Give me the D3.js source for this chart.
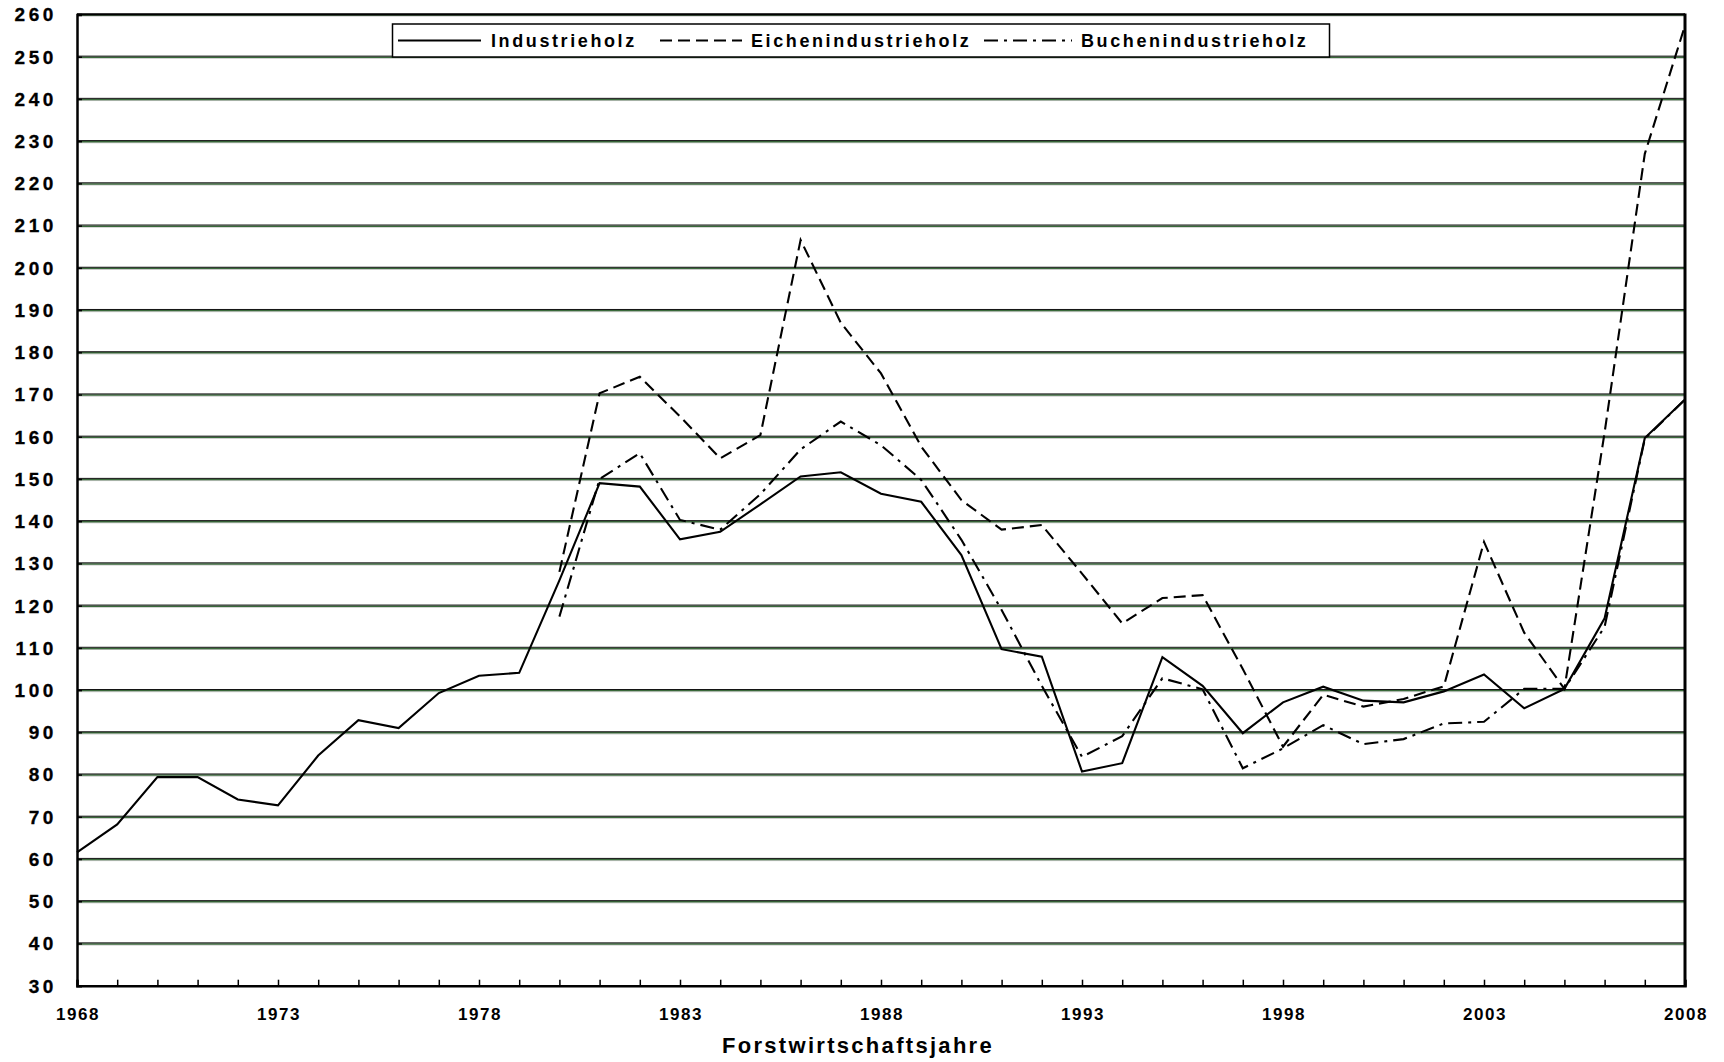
<!DOCTYPE html>
<html>
<head>
<meta charset="utf-8">
<script src="https://cdn.jsdelivr.net/npm/d3@7"></script>
<style>
  html, body { margin: 0; padding: 0; background: #fff; }
  svg { display: block; }
  text { font-family: "Liberation Sans", Arial, sans-serif; font-weight: bold; fill: #000; }
</style>
</head>
<body>
<script>
// ---- data ----
const years = d3.range(1968, 2009);
const industrieholz = [61.6, 68.2, 79.4, 79.4, 74.1, 72.7, 84.5, 92.9, 91, 99.3, 103.4, 104.1,
  126, 149, 148.2, 135.7, 137.5, 144, 150.6, 151.6, 146.5, 144.6,
  132, 109.7, 107.9, 80.7, 82.7, 107.8, 101, 89.8, 97.1, 100.8,
  97.5, 97.1, 99.7, 103.7, 95.7, 100.3, 117, 159.7, 168.8];
const eichenYears = d3.range(1980, 2009);
const eichenindustrieholz = [128, 170.3, 174.2, 164.8, 154.9, 160.4, 206.6, 187, 175, 157.7,
  145, 138, 139.1, 127.6, 115.8, 121.8, 122.5, 105, 86.6, 98.9,
  96.1, 97.9, 100.9, 135.1, 113.6, 100.3, 161, 227, 257.4];
const buchenYears = d3.range(1980, 2009);
const buchenindustrieholz = [117.4, 150, 156.1, 140.3, 138, 146.4, 157, 163.6, 158, 149.8,
  135.6, 119, 101, 84.2, 89.1, 102.8, 100.2, 81.5, 86.2, 91.7,
  87.2, 88.4, 92.1, 92.5, 100.3, 100.3, 115, 159.5, 168.8];
const seriesNames = ["Industrieholz", "Eichenindustrieholz", "Buchenindustrieholz"];
const yTicks = d3.range(30, 261, 10);
const xLabelYears = [1968, 1973, 1978, 1983, 1988, 1993, 1998, 2003, 2008];
const axisTitle = "Forstwirtschaftsjahre";

// ---- layout ----
const W = 1724, H = 1062;
const pLeft = 77, pRight = 1685, pTop = 14.5, pBottom = 985.7;

const svg = d3.select("body").append("svg").attr("width", W).attr("height", H);

const x = d3.scaleLinear().domain([1968, 2008]).range([pLeft, pRight]);
const y = d3.scaleLinear().domain([30, 260]).range([pBottom, pTop]);

// gridlines
const grid = svg.append("g");
yTicks.filter(v => v > 30).forEach(v => {
  const yy = y(v);
  grid.append("line").attr("x1", pLeft).attr("x2", pRight).attr("y1", yy + 1.6).attr("y2", yy + 1.6)
    .attr("stroke", "#c8c8c8").attr("stroke-width", 1);
  grid.append("line").attr("x1", pLeft).attr("x2", pRight).attr("y1", yy + 0.5).attr("y2", yy + 0.5)
    .attr("stroke", "#3a6a3b").attr("stroke-width", 1.5);
  grid.append("line").attr("x1", pLeft).attr("x2", pRight).attr("y1", yy - 0.6).attr("y2", yy - 0.6)
    .attr("stroke", "#111").attr("stroke-width", 1);
});

// y axis (ticks inward)
const yAxis = d3.axisLeft(y).tickValues(yTicks).tickSize(-5).tickFormat("");
const gy = svg.append("g").attr("transform", `translate(${pLeft},0)`).call(yAxis);
gy.select(".domain").attr("stroke", "#000").attr("stroke-width", 2.5);
gy.selectAll(".tick line").attr("stroke", "#000").attr("stroke-width", 1.5);

svg.append("g").selectAll("text").data(yTicks).join("text")
  .attr("x", 57).attr("y", d => y(d)).attr("dy", "0.36em")
  .attr("text-anchor", "end").attr("font-size", 19).attr("letter-spacing", 3.6)
  .attr("stroke", "#000").attr("stroke-width", 0.3)
  .text(d => d);

// x axis (ticks inward, every year)
const xAxis = d3.axisBottom(x).tickValues(years).tickSize(-6).tickFormat("");
const gx = svg.append("g").attr("transform", `translate(0,${pBottom})`).call(xAxis);
gx.select(".domain").attr("stroke", "#000").attr("stroke-width", 2.5);
gx.selectAll(".tick line").attr("stroke", "#000").attr("stroke-width", 1.5);

svg.append("g").selectAll("text").data(xLabelYears).join("text")
  .attr("x", d => x(d) + 1).attr("y", 1019.5)
  .attr("text-anchor", "middle").attr("font-size", 17).attr("letter-spacing", 1.5)
  .text(d => d);

// right and top frame
svg.append("line").attr("x1", pRight).attr("x2", pRight).attr("y1", pTop - 1).attr("y2", pBottom + 1)
  .attr("stroke", "#000").attr("stroke-width", 3);
svg.append("line").attr("x1", pLeft).attr("x2", pRight).attr("y1", pTop).attr("y2", pTop)
  .attr("stroke", "#000").attr("stroke-width", 2);

// axis title
svg.append("text").attr("x", 858).attr("y", 1053).attr("text-anchor", "middle")
  .attr("font-size", 22).attr("letter-spacing", 2.3).text(axisTitle);

// series lines
const line = d3.line().x(d => x(d[0])).y(d => y(d[1]));
const dashStyles = [null, "12,6", "14,6,3,6"];
const seriesData = [
  years.map((yr, i) => [yr, industrieholz[i]]),
  eichenYears.map((yr, i) => [yr, eichenindustrieholz[i]]),
  buchenYears.map((yr, i) => [yr, buchenindustrieholz[i]])
];
[2, 1, 0].forEach(k => {
  svg.append("path").datum(seriesData[k]).attr("d", line)
    .attr("fill", "none").attr("stroke", "#000").attr("stroke-width", 2.1)
    .attr("stroke-linejoin", "miter")
    .attr("stroke-dasharray", dashStyles[k]);
});

// legend
const lg = svg.append("g");
lg.append("rect").attr("x", 392.5).attr("y", 24).attr("width", 937).attr("height", 33)
  .attr("fill", "#fff").attr("stroke", "#000").attr("stroke-width", 1.5);
const legendItems = [
  { x1: 398, x2: 481, tx: 491 },
  { x1: 660, x2: 742, tx: 751 },
  { x1: 984, x2: 1072, tx: 1081 }
];
legendItems.forEach((it, k) => {
  lg.append("line").attr("x1", it.x1).attr("x2", it.x2).attr("y1", 40.5).attr("y2", 40.5)
    .attr("stroke", "#000").attr("stroke-width", 2).attr("stroke-dasharray", dashStyles[k]);
  lg.append("text").attr("x", it.tx).attr("y", 40.5).attr("dy", "0.36em")
    .attr("font-size", 18).attr("letter-spacing", 2.6).text(seriesNames[k]);
});
</script>
</body>
</html>
